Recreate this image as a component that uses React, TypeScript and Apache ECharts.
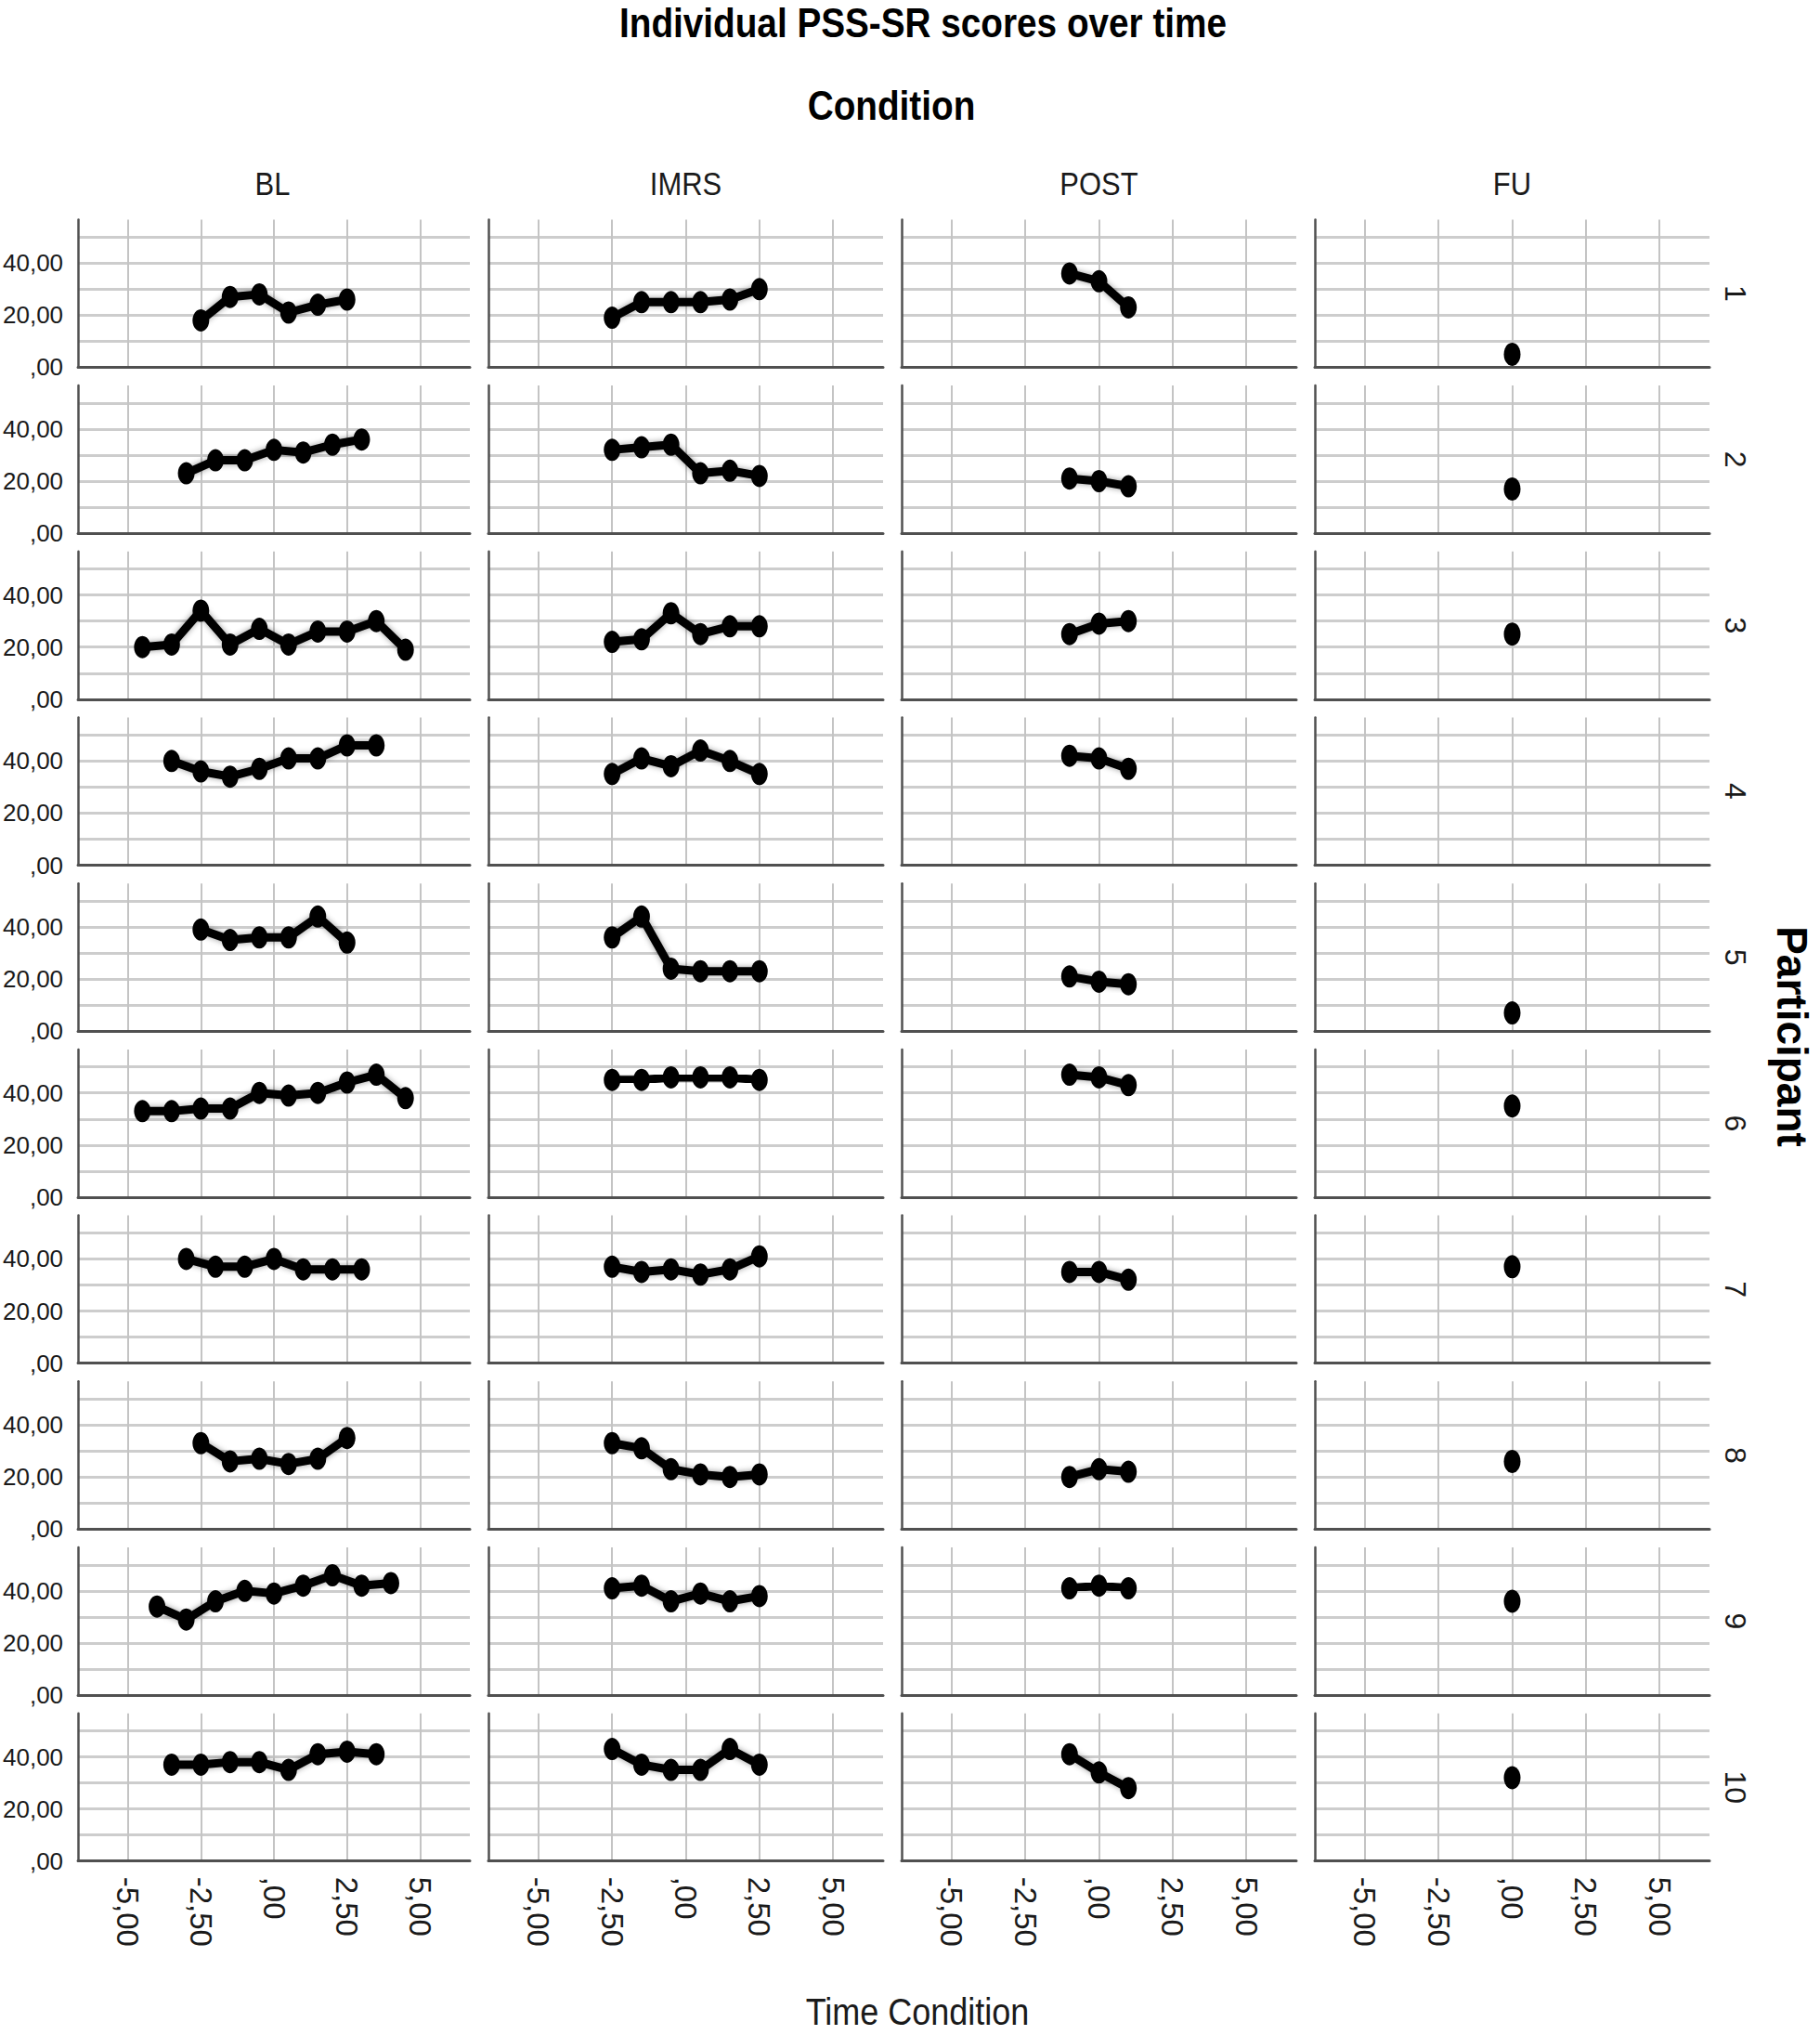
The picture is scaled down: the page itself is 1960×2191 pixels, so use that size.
import React, { useEffect, useRef } from "react";
import * as echarts from "echarts";

// ---------------- data ----------------
const CONDITIONS = ["BL", "IMRS", "POST", "FU"];
const PARTICIPANTS = ["1", "2", "3", "4", "5", "6", "7", "8", "9", "10"];

const BL_SCORES: number[][] = [
  [18, 27, 28, 21, 24, 26],
  [23, 28, 28, 32, 31, 34, 36],
  [20, 21, 34, 21, 27, 21, 26, 26, 30, 19],
  [40, 36, 34, 37, 41, 41, 46, 46],
  [39, 35, 36, 36, 44, 34],
  [33, 33, 34, 34, 40, 39, 40, 44, 47, 38],
  [40, 37, 37, 40, 36, 36, 36],
  [33, 26, 27, 25, 27, 35],
  [34, 29, 36, 40, 39, 42, 46, 42, 43],
  [37, 37, 38, 38, 35, 41, 42, 41],
];
const IMRS_SCORES: number[][] = [
  [19, 25, 25, 25, 26, 30],
  [32, 33, 34, 23, 24, 22],
  [22, 23, 33, 25, 28, 28],
  [35, 41, 38, 44, 40, 35],
  [36, 44, 24, 23, 23, 23],
  [45, 45, 46, 46, 46, 45],
  [37, 35, 36, 34, 36, 41],
  [33, 31, 23, 21, 20, 21],
  [41, 42, 36, 39, 36, 38],
  [43, 37, 35, 35, 43, 37],
];
const POST_SCORES: number[][] = [
  [36, 33, 23],
  [21, 20, 18],
  [25, 29, 30],
  [42, 41, 37],
  [21, 19, 18],
  [47, 46, 43],
  [35, 35, 32],
  [20, 23, 22],
  [41, 42, 41],
  [41, 34, 28],
];
const FU_SCORES: number[][] = [[5], [17], [25], [], [7], [35], [37], [26], [36], [32]];

// centred time within a condition, by number of measurements
const TIME_POINTS: Record<number, number[]> = {
  1: [0],
  3: [-1, 0, 1],
  6: [-2.5, -1.5, -0.5, 0.5, 1.5, 2.5],
  7: [-3, -2, -1, 0, 1, 2, 3],
  8: [-3.5, -2.5, -1.5, -0.5, 0.5, 1.5, 2.5, 3.5],
  9: [-4, -3, -2, -1, 0, 1, 2, 3, 4],
  10: [-4.5, -3.5, -2.5, -1.5, -0.5, 0.5, 1.5, 2.5, 3.5, 4.5],
};

const X_TICKS = [-5, -2.5, 0, 2.5, 5];
const X_TICK_LABELS = ["-5,00", "-2,50", ",00", "2,50", "5,00"];
const Y_TICKS = [0, 20, 40];
const Y_TICK_LABELS = [",00", "20,00", "40,00"];

const TITLE = "Individual PSS-SR scores over time";
const COL_TITLE = "Condition";
const ROW_TITLE = "Participant";
const X_TITLE = "Time Condition";

// ---------------- layout ----------------
const GRID_LEFT0 = 81;
const COL_STEP = 445;
const GRID_W = 425;
const ROW_BOTTOM0 = 395.4;
const ROW_STEP = 178.7;
const GRID_H = 159;
const X_MIN = -6.7;
const X_MAX = 6.7;
const Y_MAX = 56.7;
const FONT = '"Liberation Sans", Arial, sans-serif';

function labelFor(ticks: number[], labels: string[], v: number) {
  const i = ticks.findIndex((t) => Math.abs(t - v) < 1e-6);
  return i >= 0 ? labels[i] : "";
}

export default function App() {
  const ref = useRef<HTMLDivElement>(null);

  useEffect(() => {
    if (!ref.current) return;
    const chart = echarts.init(ref.current, undefined, { renderer: "svg" });
    const allScores = [BL_SCORES, IMRS_SCORES, POST_SCORES, FU_SCORES];

    const grids: any[] = [];
    const xAxes: any[] = [];
    const yAxes: any[] = [];
    const series: any[] = [];
    const graphic: any[] = [];

    PARTICIPANTS.forEach((p, r) => {
      const bottom = ROW_BOTTOM0 + r * ROW_STEP;
      const top = bottom - GRID_H;
      CONDITIONS.forEach((c, col) => {
        const idx = grids.length;
        const left = GRID_LEFT0 + col * COL_STEP;
        grids.push({ left, top, width: GRID_W, height: GRID_H, containLabel: false });
        xAxes.push({
          type: "value",
          gridIndex: idx,
          min: X_MIN,
          max: X_MAX,
          splitNumber: 5,
          minInterval: 2.5,
          maxInterval: 2.5,
          axisLine: { show: true, onZero: false, lineStyle: { color: "#505050", width: 3 } },
          axisTick: { show: false },
          splitLine: {
            show: true,
            showMinLine: false,
            showMaxLine: false,
            lineStyle: { color: "#c4c4c4", width: 2 },
          },
          axisLabel: {
            show: r === PARTICIPANTS.length - 1,
            rotate: -90,
            margin: 17,
            fontSize: 33,
            fontFamily: FONT,
            color: "#1a1a1a",
            showMinLabel: false,
            showMaxLabel: false,
            formatter: (v: number) => labelFor(X_TICKS, X_TICK_LABELS, v),
          },
        });
        yAxes.push({
          type: "value",
          gridIndex: idx,
          min: 0,
          max: Y_MAX,
          interval: 10,
          axisLine: { show: true, onZero: false, lineStyle: { color: "#505050", width: 2.5 } },
          axisTick: { show: false },
          splitLine: {
            show: true,
            showMinLine: false,
            showMaxLine: false,
            lineStyle: { color: "#cdcdcd", width: 3 },
          },
          axisLabel: {
            show: col === 0,
            margin: 16,
            fontSize: 26,
            fontFamily: FONT,
            color: "#1a1a1a",
            padding: [14, 0, 0, 0],
            showMaxLabel: false,
            formatter: (v: number) => labelFor(Y_TICKS, Y_TICK_LABELS, v),
          },
        });
        const vals = allScores[col][r];
        if (vals.length) {
          const times = TIME_POINTS[vals.length];
          series.push({
            type: "line",
            xAxisIndex: idx,
            yAxisIndex: idx,
            data: vals.map((v, i) => [times[i], v]),
            symbol: "circle",
            symbolSize: vals.length === 1 ? [18, 25] : [18, 24],
            lineStyle: {
              color: "#000",
              width: 9,
              shadowColor: "rgba(0,0,0,0.4)",
              shadowBlur: 6,
            },
            itemStyle: { color: "#000" },
            silent: true,
          });
        }
        if (r === 0) {
          graphic.push({
            type: "text",
            x: left + GRID_W / 2,
            y: 198,
            scaleX: 0.86,
            style: {
              text: c,
              font: `36px ${FONT}`,
              fill: "#1a1a1a",
              align: "center",
              verticalAlign: "middle",
            },
          });
        }
      });
      graphic.push({
        type: "text",
        x: 1869,
        y: bottom - GRID_H / 2,
        rotation: -Math.PI / 2,
        style: {
          text: p,
          font: `32px ${FONT}`,
          fill: "#1a1a1a",
          align: "center",
          verticalAlign: "middle",
        },
      });
    });

    graphic.push(
      {
        type: "text",
        x: 994,
        y: 25,
        scaleX: 0.88,
        style: { text: TITLE, font: `bold 44px ${FONT}`, fill: "#000", align: "center", verticalAlign: "middle" },
      },
      {
        type: "text",
        x: 960,
        y: 114,
        scaleX: 0.88,
        style: { text: COL_TITLE, font: `bold 44px ${FONT}`, fill: "#000", align: "center", verticalAlign: "middle" },
      },
      {
        type: "text",
        x: 1930,
        y: 1116,
        rotation: -Math.PI / 2,
        style: { text: ROW_TITLE, font: `bold 46px ${FONT}`, fill: "#000", align: "center", verticalAlign: "middle" },
      },
      {
        type: "text",
        x: 988,
        y: 2166,
        scaleX: 0.9,
        style: { text: X_TITLE, font: `40px ${FONT}`, fill: "#1a1a1a", align: "center", verticalAlign: "middle" },
      }
    );

    chart.setOption({
      animation: false,
      backgroundColor: "#ffffff",
      grid: grids,
      xAxis: xAxes,
      yAxis: yAxes,
      series,
      graphic,
    });

    return () => chart.dispose();
  }, []);

  return (
    <div
      ref={ref}
      style={{ position: "absolute", left: 0, top: 0, width: 1960, height: 2191, background: "#fff" }}
    />
  );
}
